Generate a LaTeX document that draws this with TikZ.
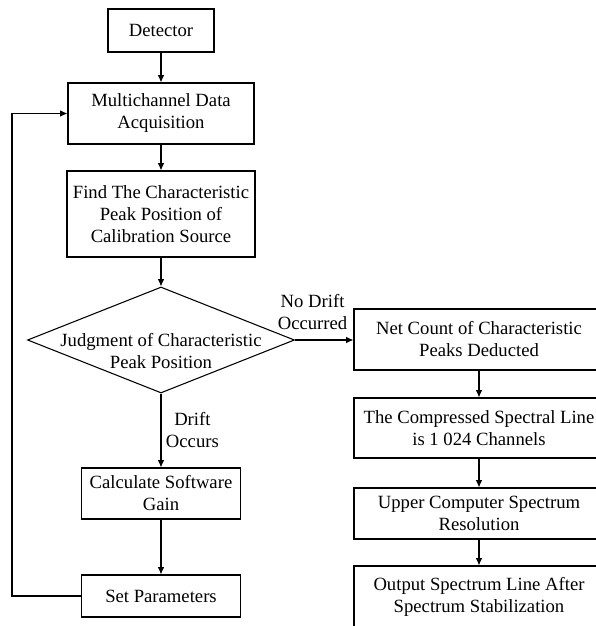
\documentclass[tikz,border=0pt]{standalone}
\usepackage{fontspec}
\setmainfont{Liberation Serif}
\usetikzlibrary{arrows.meta,positioning,shapes.geometric}

\begin{document}
\begin{tikzpicture}[x=0.75pt,y=-0.75pt,>={Latex[length=5.5pt,width=5pt]},
  every node/.style={font=\fontsize{14}{16.5}\selectfont},
  kasten/.style={draw,line width=0.8pt,align=center,inner sep=2pt},
  raute/.style={draw,line width=0.8pt,shape=diamond,inner sep=0pt,minimum width=200.25pt,minimum height=79.5pt},
  pfeil/.style={->,line width=0.8pt}]
%Bildausschnitt, rechte Spalte wird abgeschnitten
\useasboundingbox (0,0) rectangle (596,626);
\clip (0,0) rectangle (596,626);
  \pgfmathsetmacro{\xl}{161}
  \pgfmathsetmacro{\xr}{479}
%linke Spalte
\node[kasten,minimum width=79.5pt,minimum height=32.25pt] (det) at (\xl,30.5) {Detector};
\node[kasten,minimum width=139.5pt,minimum height=45.75pt] (multi) at (\xl,113.5) {Multichannel Data\\Acquisition};
\node[kasten,minimum width=141pt,minimum height=64.5pt] (find) at (\xl,214) {Find The Characteristic\\Peak Position of\\Calibration Source};
\node[raute] (judge) at (\xl,340) {};
\node[align=center] (judgetext) at (\xl,351) {Judgment of Characteristic\\Peak Position};
\node[kasten,minimum width=119.25pt,minimum height=38.25pt] (calc) at (\xl,493.5) {Calculate Software\\Gain};
\node[kasten,minimum width=119.25pt,minimum height=31.5pt] (set) at (\xl,596) {Set Parameters};
%rechte Spalte
\node[kasten,minimum width=187.5pt,minimum height=45.75pt] (net) at (\xr,339.5) {Net Count of Characteristic\\Peaks Deducted};
\node[kasten,minimum width=187.5pt,minimum height=45pt] (comp) at (\xr,428) {The Compressed Spectral Line\\is 1 024 Channels};
\node[kasten,minimum width=187.5pt,minimum height=38.25pt] (upper) at (\xr,513.5) {Upper Computer Spectrum\\Resolution};
\node[kasten,minimum width=187.5pt,minimum height=46.5pt] (output) at (\xr,597) {Output Spectrum Line After\\Spectrum Stabilization};
%Pfeile
\foreach \a/\b in {det/multi,multi/find,find/judge,calc/set,net/comp,comp/upper,upper/output}{
\draw[pfeil] (\a.south) -- (\b.north);
}
\draw[pfeil] (judge.east) -- node[pos=0.3,above=4pt,align=center] (nodrift) {No Drift\\Occurred} (judge.east -| net.west);
\draw[pfeil] (judge.south) -- node[right,align=center] (drift) {Drift\\Occurs} (calc.north);
\draw[pfeil] (set.west) -- ++(-69,0) |- (multi.west);
\end{tikzpicture}
\end{document}
